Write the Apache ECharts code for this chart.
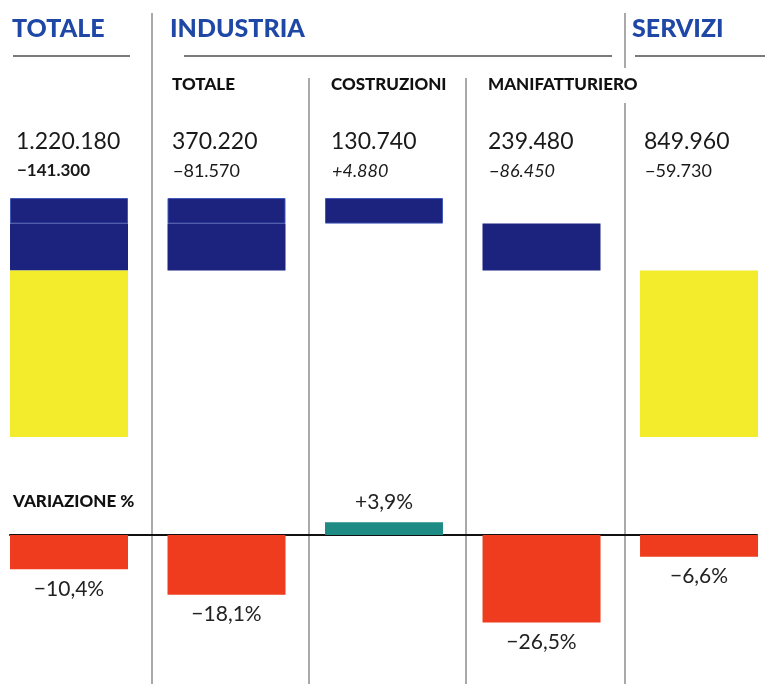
<!DOCTYPE html>
<html>
<head>
<meta charset="utf-8">
<script src="https://cdn.jsdelivr.net/npm/echarts@6/dist/echarts.min.js"></script>
<style>
  html, body { margin: 0; padding: 0; background: #fff; }
  #chart { width: 765px; height: 684px; }
</style>
</head>
<body>
<div id="chart"></div>
<script>
// occupati per settore (colonne: totale, industria, costruzioni, manifatturiero, servizi)
const categorie = ['TOTALE', 'TOTALE', 'COSTRUZIONI', 'MANIFATTURIERO', 'SERVIZI'];
const base = [0, 0, 0, 130740, 370220];
const costruzioni = [130740, 130740, 130740, 0, 0];
const manifatturiero = [239480, 239480, 0, 239480, 0];
const servizi = [849960, 0, 0, 0, 849960];
const valori = [1220180, 370220, 130740, 239480, 849960];
const differenze = [-141300, -81570, 4880, -86450, -59730];
const variazioni = [-10.4, -18.1, 3.9, -26.5, -6.6];

const xPos = [16, 172, 331, 488, 644];
const font = 'Lato, "Noto Sans", sans-serif';

const fmt = (n) => String(Math.abs(n)).replace(/\B(?=(\d{3})+(?!\d))/g, '.');
const fmtDiff = (n) => (n > 0 ? '+' : '\u2212') + fmt(n);
const fmtPct = (v) => (v > 0 ? '+' : '\u2212') + Math.abs(v).toFixed(1).replace('.', ',') + '%';

const init = () => {
  let myChart = echarts.init(document.getElementById('chart'));

  let graphic = [];
  // linee verticali
  [[152, 13, 684], [309, 78, 684], [466, 78, 684], [625, 13, 68], [625, 103, 684]].forEach((l) => {
    graphic.push({
      type: 'line',
      shape: { x1: l[0], y1: l[1], x2: l[0], y2: l[2] },
      style: { stroke: '#8c8c8c', lineWidth: 1.5 },
    });
  });
  // sottolineature dei titoli
  [[13, 130], [184, 612], [635, 765]].forEach((l) => {
    graphic.push({
      type: 'line',
      shape: { x1: l[0], y1: 56, x2: l[1], y2: 56 },
      style: { stroke: '#7a7a7a', lineWidth: 2 },
    });
  });
  // titoli
  [['TOTALE', 12], ['INDUSTRIA', 170], ['SERVIZI', 632]].forEach((t) => {
    graphic.push({
      type: 'text',
      x: t[1],
      y: 29,
      style: {
        text: t[0],
        fill: '#1f48a6',
        font: '900 25px ' + font,
        textVerticalAlign: 'middle',
      },
    });
  });
  // sottotitoli industria
  [1, 2, 3].forEach((i) => {
    graphic.push({
      type: 'text',
      x: xPos[i],
      y: 85,
      style: {
        text: categorie[i],
        fill: '#111',
        font: '900 17px ' + font,
        textVerticalAlign: 'middle',
      },
    });
  });
  // valori e differenze
  valori.forEach((v, i) => {
    graphic.push({
      type: 'text',
      x: xPos[i],
      y: 142,
      style: { text: fmt(v), fill: '#1a1a1a', font: '400 23px ' + font, textVerticalAlign: 'middle' },
    });
    let style = i === 0 ? '700 17px ' : (i === 2 || i === 3) ? 'italic 400 18px ' : '400 18px ';
    graphic.push({
      type: 'text',
      x: xPos[i] + 1,
      y: 171,
      style: { text: fmtDiff(differenze[i]), fill: '#1a1a1a', font: style + font, textVerticalAlign: 'middle' },
    });
  });
  graphic.push({
    type: 'text',
    x: 13,
    y: 502,
    style: { text: 'VARIAZIONE %', fill: '#111', font: '900 17px ' + font, textVerticalAlign: 'middle' },
  });

  let option = {
    animation: false,
    backgroundColor: '#fff',
    graphic: graphic,
    grid: [
      // centri delle colonne a 69 e 699 px
      { left: 69, right: 66, top: 198, height: 239 },
      { left: 10, right: 8, top: 502, height: 132 },
    ],
    xAxis: [
      {
        gridIndex: 0,
        type: 'category',
        boundaryGap: false,
        data: categorie,
        show: false,
      },
      {
        gridIndex: 1,
        type: 'value',
        min: -0.3746,
        max: 4.368,
        axisLine: { show: true, onZero: true, lineStyle: { color: '#111', width: 2 } },
        axisTick: { show: false },
        axisLabel: { show: false },
        splitLine: { show: false },
      },
    ],
    yAxis: [
      {
        gridIndex: 0,
        type: 'value',
        inverse: true,
        min: 0,
        max: 1220180,
        show: false,
      },
      {
        gridIndex: 1,
        type: 'value',
        min: -30,
        max: 10,
        show: false,
      },
    ],
    series: [
      {
        name: 'base',
        type: 'bar',
        stack: 'occupati',
        barWidth: 118,
        clip: false,
        itemStyle: { color: 'transparent' },
        data: base,
      },
      {
        name: 'Costruzioni',
        type: 'bar',
        stack: 'occupati',
        barWidth: 118,
        clip: false,
        itemStyle: { color: '#1b237e', borderColor: '#4058b8', borderWidth: 1 },
        // niente bordo dove il valore è zero
        data: costruzioni.map((v) => (v ? v : { value: 0, itemStyle: { borderWidth: 0 } })),
      },
      {
        name: 'Manifatturiero',
        type: 'bar',
        stack: 'occupati',
        barWidth: 118,
        clip: false,
        itemStyle: { color: '#1b237e' },
        data: manifatturiero,
      },
      {
        name: 'Servizi',
        type: 'bar',
        stack: 'occupati',
        barWidth: 118,
        clip: false,
        itemStyle: { color: '#f3ec2c' },
        data: servizi,
      },
      {
        name: 'Variazione %',
        type: 'bar',
        xAxisIndex: 1,
        yAxisIndex: 1,
        barWidth: 118,
        data: variazioni.map((v, i) => ({
          value: [i, v],
          itemStyle: { color: v > 0 ? '#1d8a84' : '#ef3b1e' },
          label: {
            show: true,
            position: v > 0 ? 'top' : 'bottom',
            distance: 9,
            formatter: fmtPct(v),
            color: '#222',
            fontFamily: font,
            fontSize: 21,
          },
        })),
      },
    ],
  };

  option && myChart.setOption(option);
};

init();
</script>
</body>
</html>
